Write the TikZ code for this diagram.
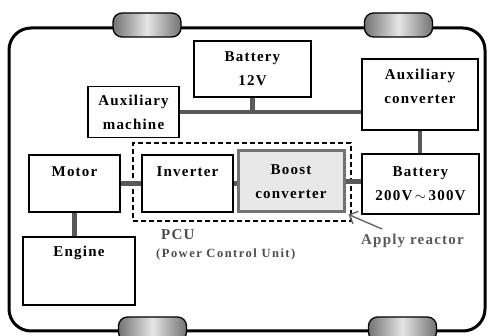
\documentclass[tikz,border=0pt]{standalone}
\usepackage{fontspec}
\setmainfont[LetterSpace=8]{Liberation Serif}
\newfontfamily\widefont[LetterSpace=12]{Liberation Serif}
\usepackage{tikz}
\usetikzlibrary{arrows.meta,positioning}
\newcommand{\boxfont}{\bfseries\fontsize{15}{24}\selectfont}
\tikzset{
  block/.style={draw=black,line width=1.4pt,fill=white,font=\boxfont,align=center,inner sep=0pt},
  boostblock/.style={block,draw=black!55,line width=3pt,fill=black!9},
  caption/.style={inner sep=0pt,font=\boxfont,align=center},
  wire/.style={draw=black!65,line width=4.5pt},
  pcuframe/.style={draw=black,line width=1.4pt,dash pattern=on 5pt off 3pt},
  wheel/.style={draw=black,line width=1.3pt,rounded corners=9pt,left color=black!55,right color=black!55,middle color=black!10,minimum width=68pt,minimum height=24pt},
  body/.style={draw=black,line width=3pt,rounded corners=22pt},
  pointer/.style={-{Straight Barb[length=2.4mm]},draw=black!60,line width=1.4pt}
}

\begin{document}
\begin{tikzpicture}[x=1pt,y=-1pt]
  \clip (0,0) rectangle (491,336);

  % car body and wheels
  \draw[body] (9,28) rectangle (485,331);
  \node[wheel] (wheelfl) at (147,25) {};
  \node[wheel] (wheelfr) at (398.5,25) {};
  \node[wheel] (wheelrl) at (152.5,329) {};
  \node[wheel] (wheelrr) at (402.5,329) {};

  % blocks
  \node[block,minimum width=117pt,minimum height=56pt] (bat12) at (252.5,69) {Battery\\12V};
  \node[block,minimum width=91pt,minimum height=51pt] (auxmach) at (133.5,112) {Auxiliary\\machine};
  \node[block,minimum width=116pt,minimum height=71pt] (auxconv) at (420,94.5) {};
  \node[block,minimum width=91pt,minimum height=57pt] (motor) at (74.5,183.5) {};
  \node[block,minimum width=91pt,minimum height=57pt] (inverter) at (187.5,183.5) {};
  \node[boostblock,minimum width=106pt,minimum height=61pt] (boost) at (291,181.5) {Boost\\converter};
  \node[block,minimum width=117pt,minimum height=60pt] (batthv) at (420.5,184) {Battery\\200V\,$\sim$\,300V};
  \node[block,minimum width=112pt,minimum height=68pt] (engine) at (79,271) {};
  \node[pcuframe,minimum width=218pt,minimum height=78pt] (pcu) at (242,182) {};

  % connections
  \draw[wire] (auxmach.east) -- (auxmach.east -| auxconv.west);
  \draw[wire] (bat12.south) -- (bat12.south |- auxmach.east);
  \draw[wire] (auxconv.south) -- (auxconv.south |- batthv.north);
  \draw[wire] (motor.east) -- (inverter.west);
  \draw[wire] (inverter.east) -- (inverter.east -| boost.west);
  \draw[wire] (boost.east) -- (boost.east -| batthv.west);
  \draw[wire] (motor.south) -- (motor.south |- engine.north);

  % texts in the upper part of the boxes
  \node[caption,below=11pt of auxconv.north] (auxconvtext) {Auxiliary\\converter};
  \node[caption,below=12pt of motor.north] (motortext) {Motor};
  \node[caption,below=12pt of inverter.north] (invertertext) {Inverter};
  \node[caption,below=10pt of engine.north] (enginetext) {Engine};

  % PCU and reactor labels
  \node[caption,anchor=west,text=black!70] (pcutext) at (161,235) {PCU};
  \node[caption,anchor=west,text=black!70,font=\widefont\bfseries\fontsize{12.5}{14}\selectfont] (pcufull) at (156,254) {(Power Control Unit)};
  \node[caption,anchor=west,text=black!65] (reactortext) at (361,241) {Apply reactor};
  \coordinate (reactortail) at (382,229);
  \draw[pointer] (reactortail) -- ([shift={(3pt,-1pt)}]boost.south east);
\end{tikzpicture}
\end{document}
